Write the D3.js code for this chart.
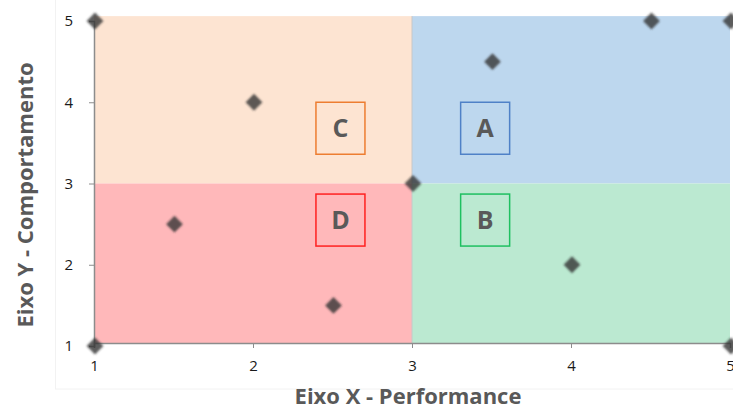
<!DOCTYPE html>
<html><head><meta charset="utf-8">
<script src="https://cdn.jsdelivr.net/npm/d3@7"></script>
<style>body{margin:0;background:#fff;} svg text{font-family:"Open Sans","Noto Sans",sans-serif;}</style>
</head><body><svg id="c" width="733" height="410"></svg>
<script>
const xVals = [1, 1, 1.5, 2, 2.5, 3, 3.5, 4, 4.5, 5, 5];
const yVals = [5, 1, 2.5, 4, 1.5, 3, 4.5, 2, 5, 5, 1];
const ticks = [1, 2, 3, 4, 5];
const quadNames = ["C", "A", "D", "B"];
const quadX0 = [1, 3, 1, 3];
const quadX1 = [3, 5, 3, 5];
const quadY0 = [3, 3, 1, 1];
const quadY1 = [5.06, 5.06, 3, 3];
const quadFill = ["#FDE4D2", "#BDD7EE", "#FFB8BA", "#BBE9D1"];
const quadStroke = ["#ED7D31", "#4F81C7", "#FF2020", "#1EC060"];
const labelX = [2.55, 3.46, 2.55, 3.46];
const labelY = [3.68, 3.68, 2.55, 2.55];

const svg = d3.select("#c");
const x = d3.scaleLinear().domain([1, 5]).range([94, 730]);
const y = d3.scaleLinear().domain([1, 5]).range([346, 21]);
const FF = "'Open Sans','Noto Sans',sans-serif";
const yBase = y(1) - 3;

// faint chart border
svg.append("rect").attr("x", 55.5).attr("y", -2).attr("width", 690).attr("height", 391)
  .attr("fill", "none").attr("stroke", "#f2f2f2");

// quadrants
svg.selectAll("rect.q").data(quadNames).join("rect").attr("class", "q")
  .attr("x", (d, i) => x(quadX0[i])).attr("width", (d, i) => x(quadX1[i]) - x(quadX0[i]))
  .attr("y", (d, i) => y(quadY1[i]))
  .attr("height", (d, i) => Math.min(y(quadY0[i]), yBase) - y(quadY1[i]))
  .attr("fill", (d, i) => quadFill[i]);
svg.append("line").attr("x1", x(3)).attr("x2", x(3)).attr("y1", y(5.06)).attr("y2", yBase)
  .attr("stroke", "#c8c8c8").attr("stroke-width", 1);

// axes
const gx = svg.append("g").attr("transform", `translate(0,${yBase})`)
  .call(d3.axisBottom(x).tickValues(ticks).tickSize(5).tickPadding(12).tickFormat(d3.format("d")));
const gy = svg.append("g").attr("transform", `translate(${x(1)},0)`)
  .call(d3.axisLeft(y).tickValues(ticks).tickSize(5).tickPadding(16).tickFormat(d3.format("d")));
[gx, gy].forEach(g => {
  g.attr("font-family", FF).attr("font-size", 15);
  g.select(".domain").attr("stroke", "#8c8c8c").attr("stroke-width", 1.5);
  g.selectAll(".tick line").attr("stroke", "#8c8c8c");
  g.selectAll(".tick text").attr("fill", "#1a1a1a").attr("font-size", 15).attr("font-family", FF);
});

// label boxes
const lb = svg.selectAll("g.lb").data(quadNames).join("g").attr("class", "lb")
  .attr("transform", (d, i) => `translate(${x(labelX[i])},${y(labelY[i])})`);
lb.append("rect").attr("x", -24.5).attr("y", -26).attr("width", 49).attr("height", 52)
  .attr("fill", "none").attr("stroke", (d, i) => quadStroke[i]).attr("stroke-width", 1.5);
lb.append("text").text(d => d).attr("text-anchor", "middle").attr("dy", "0.36em")
  .attr("fill", "#595959").attr("font-size", 25).attr("font-weight", "bold");

// markers
const defs = svg.append("defs");
defs.append("filter").attr("id", "blur").append("feGaussianBlur").attr("stdDeviation", 1.1);
svg.selectAll("path.m").data(xVals).join("path").attr("class", "m")
  .attr("d", d3.symbol().type(d3.symbolDiamond2).size(180))
  .attr("transform", (d, i) => `translate(${x(d) + 1},${y(yVals[i])})`)
  .attr("fill", "#353535").attr("fill-opacity", 0.8).attr("filter", "url(#blur)");

// axis titles
svg.append("text").attr("x", 408).attr("y", 404).attr("text-anchor", "middle")
  .attr("fill", "#595959").attr("font-size", 22).attr("font-weight", "bold")
  .text("Eixo X - Performance");
svg.append("text").attr("transform", "translate(33,195) rotate(-90)").attr("text-anchor", "middle")
  .attr("fill", "#595959").attr("font-size", 22).attr("font-weight", "bold")
  .text("Eixo Y - Comportamento");
</script></body></html>
